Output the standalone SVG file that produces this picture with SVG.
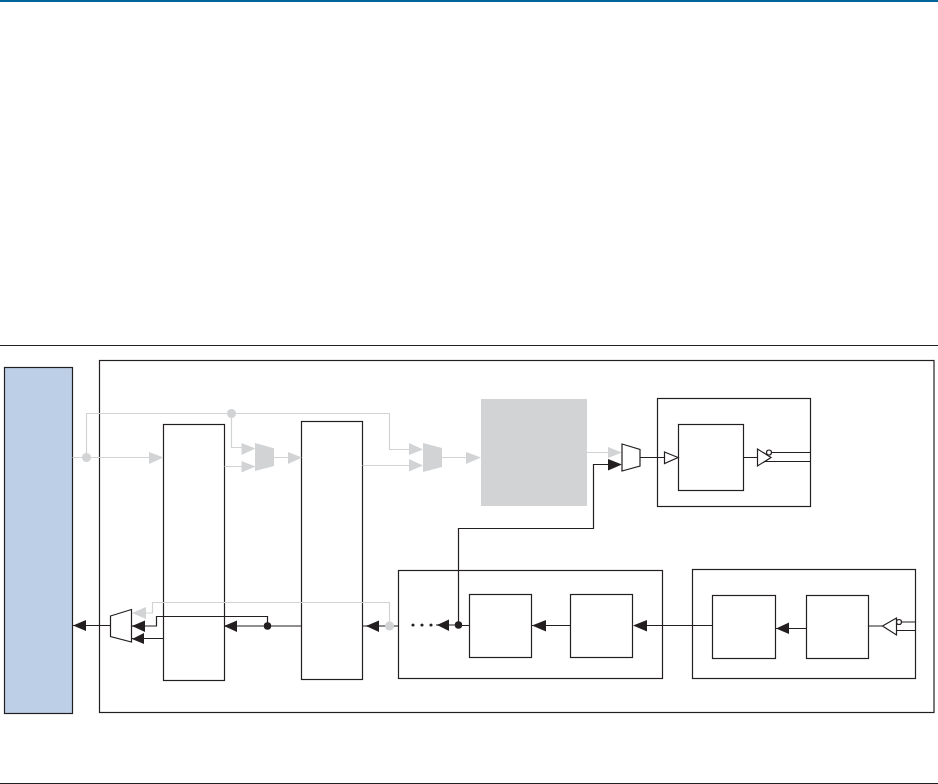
<svg xmlns="http://www.w3.org/2000/svg" width="938" height="784" viewBox="0 0 938 784">
<style>
.b{fill:none;stroke:#231f20;stroke-width:1.2}
.k{fill:none;stroke:#231f20;stroke-width:1.2}
.g{fill:none;stroke:#d1d3d4;stroke-width:1.2}
.ka{fill:#231f20}
.ga{fill:#d1d3d4}
.w{fill:#fff;stroke:#231f20;stroke-width:1.2}
</style>
<rect width="938" height="784" fill="#fff"/>
<rect id="top-bar" x="0" y="0" width="938" height="2" fill="#006699"/>
<path d="M0 345.500H938" class="k"/>
<path d="M0 783.500H938" class="k"/>
<g id="outer"><rect class="b" x="99.500" y="360.500" width="834.500" height="352"/></g>
<g id="host"><rect x="4.500" y="367.500" width="68" height="346" fill="#bdcfe6" stroke="#231f20" stroke-width="1.200"/></g>
<g id="block-a"><rect class="b" x="163.500" y="424.500" width="61" height="256"/></g>
<g id="block-b"><rect class="b" x="301.500" y="421.500" width="61" height="258"/></g>
<g id="gray-block"><rect x="481" y="399" width="106" height="107" fill="#d1d3d4"/></g>
<g id="top-right-box"><rect class="b" x="657.500" y="398.500" width="153" height="108"/></g>
<g id="top-right-inner"><rect class="b" x="678.500" y="424.500" width="65" height="66"/></g>
<g id="mid-box"><rect class="b" x="398.500" y="570.500" width="264" height="108"/></g>
<g id="mid-inner-1"><rect class="b" x="469.500" y="594.500" width="62" height="63"/></g>
<g id="mid-inner-2"><rect class="b" x="570.500" y="594.500" width="62" height="63"/></g>
<g id="right-box"><rect class="b" x="692.500" y="569.500" width="223" height="109"/></g>
<g id="right-inner-1"><rect class="b" x="712.500" y="595.500" width="63" height="63"/></g>
<g id="right-inner-2"><rect class="b" x="806.500" y="595.500" width="62" height="63"/></g>
<g id="connectors">
<path class="g" d="M72.500 457.500H150M86.500 457.500V413.500H389.500V449.500H410M231.500 413.500V447.500H242M224.500 466.500H242M362.500 465.500H410M442 457.500H468M274 457.500H288M587 452.500H608"/>
<path class="ga" d="M149 452 163.500 457.500 149 464ZM241.500 443 255.500 448.500 241.500 455ZM241.500 461 255.500 466.500 241.500 472.500ZM288 452 302 457.500 288 464ZM409 443 423 449.500 409 455ZM409 459 423 465.500 409 471.500ZM466 452 481 457.500 466 464ZM608 447 622 452.500 608 458Z"/>
<path class="ga" d="M255 443 274 448.300V466L255 471ZM423 443 442 448V467L423 472Z"/>
<circle class="ga" cx="86.500" cy="457.500" r="4.500"/>
<circle class="ga" cx="231.500" cy="413.500" r="4.500"/>
<path class="k" d="M73 625.500H110M132 626H156.500V616.500H267.500V626M301.500 626H225M132 638.500H163.500"/>
<path class="ka" d="M73 625.500 86 620V631ZM132 626 145 620.500V632ZM132 639 144 633V644ZM224 626 237 620.500V632Z"/>
<circle class="ka" cx="267.500" cy="626" r="3.700"/>
<path class="k" d="M362 626H398.500M459 625H436M458.500 625V528.500H593.500V464.500H608M469.500 625.500H458.500M570.500 625.500H532M692.500 625.500H712.500M634 625.500H692.500M806.500 628.500H776M868.500 626H882M898 622H915.500M893 630.500H915.500"/>
<path class="ka" d="M366 626 379 620.500V632ZM437 625 449 619.500V631ZM532 625.500 546 620V631.500ZM633 625.500 647 620V631.500ZM776 628.500 789 622.500V634ZM622 464.500 608 459V470.500Z"/>
<circle class="ka" cx="458.500" cy="625" r="3.700"/>
<circle class="ka" cx="413" cy="625" r="1.600"/>
<circle class="ka" cx="422" cy="625" r="1.600"/>
<circle class="ka" cx="431" cy="625" r="1.600"/>
<path class="g" d="M146 613H152.500V602.500H389.500V626"/>
<path class="ga" d="M132 613 146 607V619Z"/>
<circle class="ga" cx="389.500" cy="626" r="4.500"/>
<path class="k" d="M640 457.500H664.500M743.500 457.500H758M771 452.500H810.500M765 461.500H810.500"/>
</g>
<g id="mux-bottom"><path class="w" d="M110.500 616 131.500 609.500V642L110.500 636.500Z"/></g>
<g id="mux-top"><path class="w" d="M622 444 640 449.500V466L622 471Z"/></g>
<g id="buf-in"><path class="w" d="M664.500 452 678 457.500 664.500 463.500Z"/></g>
<g id="buf-out"><path class="w" d="M757.500 449 771 457.500 757.500 466Z"/><circle class="w" cx="769" cy="452.500" r="2.500"/></g>
<g id="buf-right"><path class="w" d="M896.500 618 882.500 626 896.500 635Z"/><circle class="w" cx="899" cy="622" r="2.500"/></g>
</svg>
